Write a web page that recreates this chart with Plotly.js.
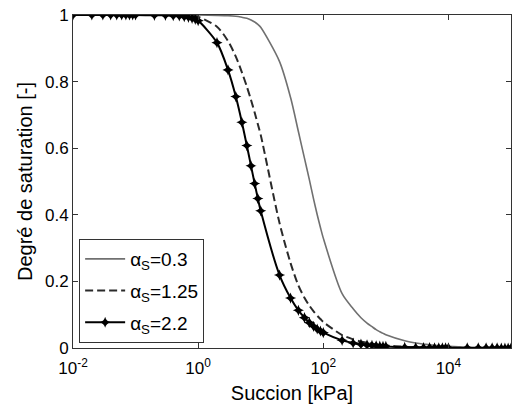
<!DOCTYPE html>
<html>
<head>
<meta charset="utf-8">
<script src="https://cdn.plot.ly/plotly-3.0.1.min.js"></script>
<style>html,body{margin:0;padding:0;background:#fff;}#chart{width:514px;height:406px;}</style>
</head>
<body>
<div id="chart"></div>
<script>
// Suction values (kPa)
const suction = [
  0.01,0.02,0.03,0.04,0.05,0.06,0.07,0.08,0.09,
  0.1,0.2,0.3,0.4,0.5,0.6,0.7,0.8,0.9,
  1,2,3,4,5,6,7,8,9,
  10,20,30,40,50,60,70,80,90,
  100,200,300,400,500,600,700,800,900,
  1000,2000,3000,4000,5000,6000,7000,8000,9000,
  10000,20000,30000,40000,50000,60000,70000,80000,90000,
  100000
];
// alpha_s = 0.3 (grey solid)
const satA03 = [
  1,1,1,1,1,1,1,1,1,
  1,1,1,1,1,1,1,1,1,
  1,0.999,0.998,0.996,0.993,0.99,0.985,0.979,0.972,
  0.963,0.86,0.752,0.65,0.57,0.505,0.447,0.40,0.362,
  0.33,0.163,0.118,0.091,0.075,0.064,0.055,0.049,0.044,
  0.04,0.022,0.015,0.012,0.0095,0.008,0.007,0.0062,0.0056,
  0.005,0.0028,0.002,0.0015,0.0012,0.001,0.0009,0.0008,0.0007,
  0.0006
];
// alpha_s = 1.25 (dashed)
const satA125 = [
  1,1,1,1,1,1,1,1,1,
  1,1,1,1,0.999,0.999,0.998,0.998,0.997,
  0.995,0.965,0.922,0.875,0.828,0.785,0.745,0.707,0.672,
  0.64,0.375,0.255,0.188,0.151,0.127,0.110,0.097,0.087,
  0.078,0.039,0.026,0.0195,0.0156,0.013,0.0111,0.0097,0.0087,
  0.0078,0.0039,0.0026,0.002,0.0016,0.0013,0.0011,0.001,0.0009,
  0.0008,0.0004,0.0003,0.0002,0.00016,0.00013,0.00011,0.0001,0.00009,
  0.00008
];
// alpha_s = 2.2 (black with markers)
const satA22 = [
  1,1,1,1,1,1,1,1,1,
  1,0.999,0.999,0.998,0.997,0.995,0.993,0.99,0.987,
  0.983,0.917,0.835,0.755,0.678,0.608,0.547,0.494,0.449,
  0.412,0.219,0.150,0.113,0.091,0.076,0.065,0.057,0.051,
  0.046,0.023,0.015,0.0115,0.0092,0.0077,0.0066,0.0058,0.0051,
  0.0046,0.0023,0.0015,0.0012,0.0009,0.0008,0.0007,0.0006,0.0005,
  0.00046,0.00023,0.00015,0.00012,0.00009,0.00008,0.00007,0.00006,0.00005,
  0.00005
];
const xTickVals = [0.01, 1, 100, 10000];
const xTickText = ['10<sup>-2</sup>', '10<sup>0</sup>', '10<sup>2</sup>', '10<sup>4</sup>'];
const yTickVals = [0, 0.2, 0.4, 0.6, 0.8, 1];
const yTickText = ['0', '0.2', '0.4', '0.6', '0.8', '1'];
const legendNames = ['α<sub>S</sub>=0.3', 'α<sub>S</sub>=1.25', 'α<sub>S</sub>=2.2'];

const font = 'Liberation Sans, Arial, sans-serif';

const traces = [
  {x: suction, y: satA03, name: legendNames[0], mode: 'lines', legendgroup: 'a',
   line: {color: '#707070', width: 1.6, shape: 'spline', smoothing: 0.8}},
  {x: suction, y: satA125, name: legendNames[1], mode: 'lines', legendgroup: 'b',
   line: {color: '#2a2a2a', width: 2, dash: '8px,4px', shape: 'spline', smoothing: 0.8}},
  {x: suction, y: satA22, name: legendNames[2], mode: 'lines+markers', legendgroup: 'c',
   line: {color: '#000', width: 2, shape: 'spline', smoothing: 0.8},
   marker: {symbol: 'star-diamond', size: 8, color: '#000'}}
];

const axisCommon = {
  showgrid: false, zeroline: false, showline: true, linecolor: '#333', linewidth: 1,
  mirror: 'ticks', ticks: 'inside', ticklen: 5, tickcolor: '#333',
  tickfont: {family: font, size: 17, color: '#000'}
};

const layout = {
  width: 514, height: 406,
  margin: {l: 73, r: 3, t: 15, b: 58},
  paper_bgcolor: '#fff', plot_bgcolor: '#fff',
  font: {family: font, color: '#000'},
  showlegend: true,
  xaxis: Object.assign({}, axisCommon, {
    type: 'log', range: [-2, 5], tickvals: xTickVals, ticktext: xTickText,
    ticklabelstandoff: 5,
    title: {text: 'Succion [kPa]', font: {family: font, size: 20, color: '#000'}, standoff: 8}
  }),
  yaxis: Object.assign({}, axisCommon, {
    range: [0, 1], tickvals: yTickVals, ticktext: yTickText,
    title: {text: 'Degré de saturation [-]', font: {family: font, size: 20, color: '#000'}, standoff: 6}
  }),
  legend: {
    x: 0.014, y: 0.015, xanchor: 'left', yanchor: 'bottom',
    bgcolor: '#fff', bordercolor: '#333', borderwidth: 1,
    font: {family: font, size: 19, color: '#000'},
    traceorder: 'grouped', tracegroupgap: 4, itemwidth: 40
  }
};

Plotly.newPlot('chart', traces, layout, {displayModeBar: false, staticPlot: true});
</script>
</body>
</html>
